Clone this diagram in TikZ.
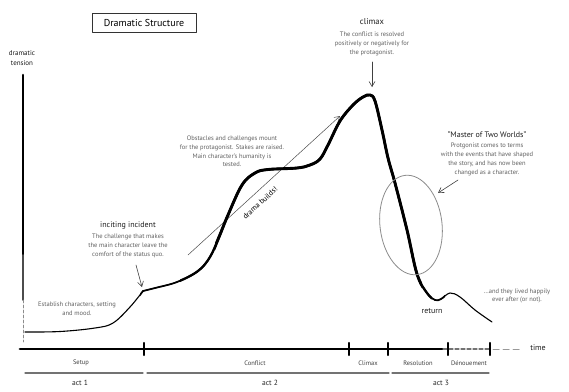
\documentclass[tikz,border=0pt]{standalone}
\usepackage{fontspec}
\setmainfont{PT Sans}
\usetikzlibrary{arrows.meta}
\newcommand\dramapath[1]{%
  \draw[#1] plot[smooth,tension=0.6] coordinates {(25,332) (60,331.5) (95,328) (113,323) (130,307) (143,291)};
  \draw[#1] plot[smooth,tension=0.6] coordinates {(143,291) (155,288) (177,282) (198,271) (210,257) (219,237) (228,215) (242,185) (255,173) (268,169.5) (297,168) (310,165) (320,159) (328,145) (340,121) (353,105) (363,97) (370,95) (375,101) (382,130) (388,158) (395,183) (407,230) (417,274) (427,293) (435,300) (441,299) (450,293) (460,297) (475,310) (492,322)};
}
\begin{document}
\begin{tikzpicture}[x=1pt,y=-1pt,
  desc/.style={font=\fontsize{6.5}{8.8}\selectfont, text=black!62, align=center, inner sep=0pt},
  head/.style={font=\fontsize{8}{9}\selectfont, text=black!88, inner sep=0pt},
  phase/.style={font=\fontsize{6.5}{8}\selectfont, text=black!75, inner sep=0pt},
  actlbl/.style={font=\fontsize{7.5}{9}\selectfont, text=black!85, inner sep=0pt},
  actline/.style={draw=black!55, line width=1.1pt},
  tick/.style={draw=black, line width=2.2pt},
  arr/.style={draw=black!75, line width=0.6pt, -{Straight Barb[length=5pt,width=6pt]}},
  line cap=round, line join=round]
\useasboundingbox (0,0) rectangle (569,391);
\fill[white] (0,0) rectangle (569,391);

% title
\node[draw=black!80, line width=0.6pt, font=\fontsize{10}{12}\selectfont, minimum width=104pt, minimum height=19pt, inner sep=0pt] (title) at (144,23) {Dramatic Structure};

% axes
\node[font=\fontsize{7}{10}\selectfont, align=center, inner sep=0pt, text=black!90] (ylab) at (22,58.5) {dramatic\\tension};
\draw[line width=2.6pt] (23,75) -- (23,255);
\draw[line width=1.6pt, black!70] (23,255) -- (23,300);
\draw[line width=0.8pt, black!45, dash pattern=on 3pt off 2pt] (23,300) -- (23,342);

\draw[line width=2.8pt] (20,349) -- (443,349);
\draw[line width=1.3pt, black!55, dash pattern=on 4pt off 2pt] (443,349) -- (490,349);
\draw[line width=1pt, black!40, dash pattern=on 6pt off 4pt] (493,349) -- (522,349);
\foreach \tx in {144,349,388,448,490} \draw[tick] (\tx,343) -- (\tx,355);
\node[head] (time) at (538,347.5) {time};

% phases
\node[phase] (setup) at (81,363) {Setup};
\node[phase] (conflict) at (255,363) {Conflict};
\node[phase] (climaxp) at (368,363) {Climax};
\node[phase] (resol) at (418,363) {Resolution};
\node[phase] (denoue) at (469,363) {Dénouement};

% acts
\draw[actline] (25,373) -- (143,373);
\draw[actline] (147,373) -- (389,373);
\draw[actline] (392,373) -- (489,373);
\node[actlbl] (act1) at (80,383) {act 1};
\node[actlbl] (act2) at (270,383) {act 2};
\node[actlbl] (act3) at (441,383) {act 3};

% drama builds
\coordinate (dbstart) at (188,255);
\coordinate (dbend) at (340,116);
\draw[arr, draw=black!70, line width=0.5pt] (dbstart) -- (dbend);
\node[font=\fontsize{7.5}{8}\selectfont, rotate=42.4, inner sep=0pt] (drama) at (260,203) {drama builds!};

% curve with tapering
\dramapath{line width=1.1pt}
\begin{scope}\clip (140,0) rectangle (445,391); \dramapath{line width=1.7pt}\end{scope}
\begin{scope}\clip (180,0) rectangle (432,391); \dramapath{line width=2.3pt}\end{scope}
\begin{scope}\clip (215,0) rectangle (422,391); \dramapath{line width=2.9pt}\end{scope}

% ellipse
\draw[black!45, line width=0.8pt, rotate around={7:(411,225)}] (411,225) ellipse [x radius=31, y radius=50];

% texts
\node[head, font=\fontsize{8.5}{10}\selectfont] (climaxh) at (372,22) {climax};
\node[desc] (climaxd) at (372,44) {The conflict is resolved\\positively or negatively for\\the protagonist.};
\coordinate (cs) at (372,62);
\coordinate (ce) at (372,87);
\draw[arr] (cs) -- (ce);

\node[desc] (obst) at (232,151.5) {Obstacles and challenges mount\\for the protagonist. Stakes are raised.\\Main character's humanity is\\tested.};

\node[head] (incith) at (128,226) {inciting incident};
\node[desc] (incitd) at (128,246) {The challenge that makes\\the main character leave the\\comfort of the status quo.};
\coordinate (is) at (136,265);
\coordinate (ie) at (142,287);
\draw[arr] (is) -- (ie);

\node[desc] (estab) at (77,308.5) {Establish characters, setting\\and mood.};

\node[head] (masterh) at (487,135) {"Master of Two Worlds"};
\node[desc] (masterd) at (487,159.5) {Protgonist comes to terms\\with the events that have shaped\\the story, and has now been\\changed as a character.};
\coordinate (ms) at (458,180);
\coordinate (me) at (438,193);
\draw[arr] (ms) -- (me);

\node[head] (ret) at (432,311) {return};
\node[desc] (happy) at (517,296) {...and they lived happily\\ever after (or not).};
\end{tikzpicture}
\end{document}
